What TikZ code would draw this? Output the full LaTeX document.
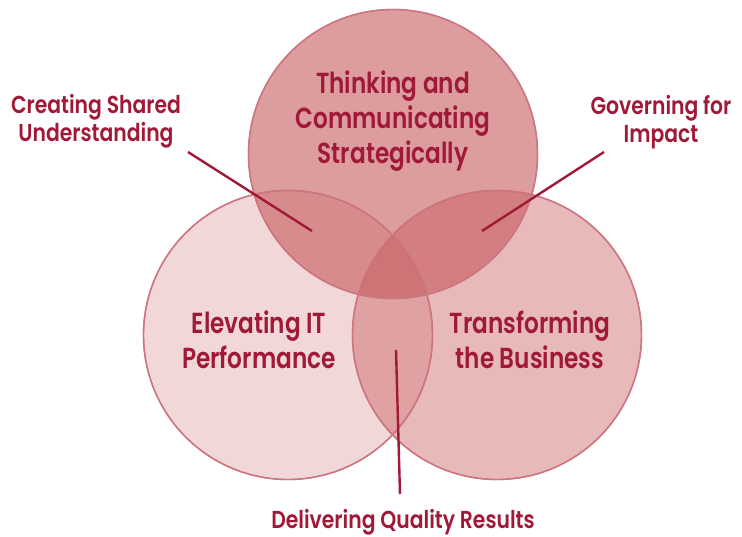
\documentclass[tikz,border=0pt]{standalone}
\usepackage{fontspec}
\newfontfamily\vennfont{Poppins SemiBold}[FakeStretch=0.8]
\newfontfamily\sidefont{Poppins SemiBold}[FakeStretch=0.83]
\usepackage{tikz}

\definecolor{vennbase}{RGB}{196,84,86}
\definecolor{vennedge}{RGB}{205,118,130}
\definecolor{venntext}{RGB}{160,25,55}

\tikzset{
  circ/.style={draw=vennedge, line width=1.4pt, fill=vennbase},
  bigtext/.style={align=center, inner sep=0pt, text=venntext,
    font=\vennfont\fontsize{29}{35}\selectfont},
  smalltext/.style={align=center, inner sep=0pt, text=venntext,
    font=\sidefont\fontsize{24.5}{28}\selectfont},
  pointer/.style={draw=venntext, line width=2.4pt}
}

\begin{document}
\begin{tikzpicture}[x=1pt, y=-1pt]
              \useasboundingbox (0,0) rectangle (742,537);

              \fill[circ, fill opacity=0.23] (288,335) circle (144.5);
              \fill[circ, fill opacity=0.41] (497,335) circle (144.5);
              \fill[circ, fill opacity=0.58] (393,154) circle (144.5);
              \draw[circ, fill=none] (288,335) circle (144.5);
              \draw[circ, fill=none] (497,335) circle (144.5);
              \draw[circ, fill=none] (393,154) circle (144.5);

              \node[bigtext] (think) at (393,121) {Thinking and\\Communicating\\Strategically};
              \node[bigtext] (elev) at (259,339.5) {Elevating IT\\Performance};
              \node[bigtext] (trans) at (530,339.5) {Transforming\\the Business};

              \node[smalltext] (shared) at (96,121) {Creating Shared\\Understanding};
              \node[smalltext] (govern) at (661,122) {Governing for\\Impact};
              \node[smalltext, anchor=base] (deliver) at (403,528.5) {Delivering Quality Results};

              \coordinate (shared-a) at (188,152);
              \coordinate (shared-b) at (312,231);
              \coordinate (govern-a) at (604,152);
              \coordinate (govern-b) at (482,231);
              \coordinate (deliver-a) at (396,350);
              \coordinate (deliver-b) at (400,494);

              \draw[pointer] (shared-a) -- (shared-b);
              \draw[pointer] (govern-a) -- (govern-b);
              \draw[pointer] (deliver-a) -- (deliver-b);
            \end{tikzpicture}
\end{document}
